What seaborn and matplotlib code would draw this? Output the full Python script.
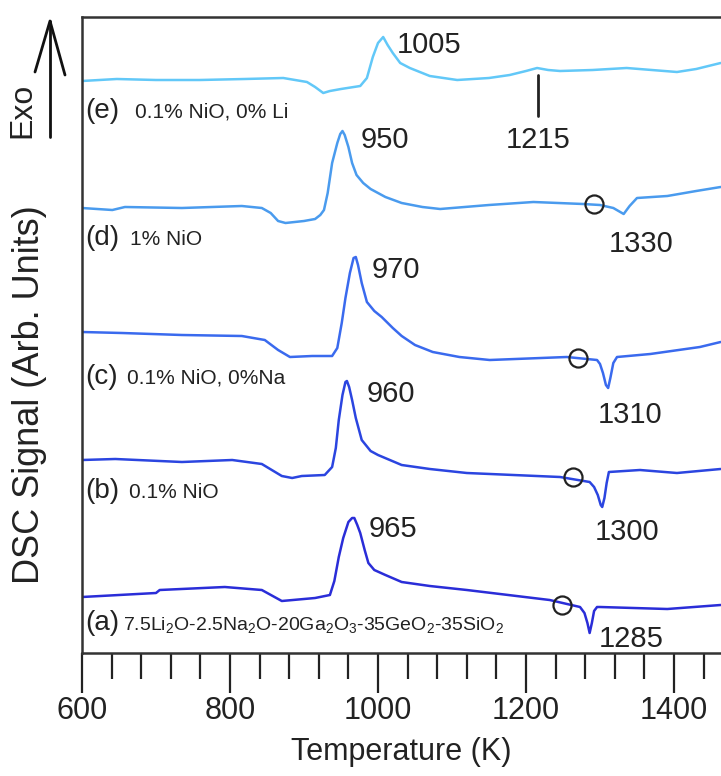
import numpy as np
import matplotlib
matplotlib.use("Agg")
import matplotlib.pyplot as plt
from matplotlib.lines import Line2D
import seaborn as sns

# ---------------- data (temperature in K, DSC signal in arbitrary units) ----------------
temps_e = [600, 647, 700, 759, 820, 872, 904, 915, 926, 935, 950, 976, 985, 993, 1000, 1007,
           1013, 1020, 1030, 1043, 1070, 1107, 1150, 1178, 1200, 1215, 1230, 1246, 1290,
           1336, 1370, 1404, 1430, 1463]
dsc_e = [572, 574, 573, 573, 574, 575, 571, 566, 560, 562, 564, 567, 575, 596, 610, 616,
         608, 600, 590, 585, 577, 573, 575, 578, 582, 585, 583, 582, 583,
         585, 583, 581, 584, 590]

temps_d = [600, 641, 658, 735, 816, 843, 855, 865, 875, 900, 915, 922, 927, 932, 938, 945,
           949, 952, 955, 960, 965, 971, 980, 990, 1010, 1032, 1060, 1084, 1150, 1210,
           1277, 1300, 1318, 1325, 1332, 1340, 1350, 1391, 1430, 1463]
dsc_d = [445, 443, 446, 445, 447, 445, 440, 432, 430, 432, 434, 438, 443, 460, 490, 510,
         519, 522, 518, 506, 490, 478, 470, 464, 456, 450, 446, 444, 448, 451,
         449, 448, 445, 442, 439, 447, 455, 457, 462, 466]

temps_c = [600, 654, 735, 816, 847, 865, 881, 911, 938, 945, 951, 956, 962, 967, 970, 973,
           978, 985, 995, 1005, 1020, 1032, 1050, 1074, 1110, 1151, 1255, 1296, 1300, 1304,
           1308, 1311, 1314, 1318, 1323, 1368, 1435, 1463]
dsc_c = [321, 320, 318, 317, 313, 303, 296, 297, 297, 305, 330, 355, 380, 395, 396, 388,
         370, 351, 342, 336, 325, 317, 308, 301, 296, 293, 296, 293, 289, 280,
         268, 265, 275, 290, 296, 299, 306, 311]

temps_b = [600, 645, 735, 803, 843, 870, 884, 897, 928, 938, 943, 947, 952, 956, 958, 961,
           965, 970, 978, 990, 1000, 1032, 1070, 1120, 1246, 1286, 1292, 1297, 1301, 1303,
           1306, 1309, 1312, 1354, 1404, 1463]
dsc_b = [193, 194, 191, 193, 189, 177, 175, 177, 178, 186, 205, 233, 258, 271, 272, 266,
         253, 235, 213, 202, 198, 188, 184, 180, 176, 171, 166, 158, 148, 146,
         155, 170, 181, 183, 180, 184]

temps_a = [600, 700, 705, 793, 843, 870, 915, 935, 941, 947, 953, 960, 965, 968, 972, 976,
           982, 987, 995, 1010, 1032, 1070, 1120, 1232, 1273, 1279, 1283, 1286, 1289, 1292,
           1296, 1300, 1391, 1463]
dsc_a = [56, 60, 63, 66, 63, 52, 55, 58, 72, 96, 115, 131, 135, 135, 128, 120,
         103, 90, 83, 78, 71, 67, 63, 53, 46, 40, 30, 20, 30, 42,
         46, 46, 44, 48]

# open-circle markers (onset of melting)
circle_temps = [1292, 1270, 1263, 1249]
circle_dsc = [449, 295, 176, 48]

# peak labels: text, temperature, signal, horizontal alignment
peak_texts = ["1005", "950", "970", "960", "965", "1215", "1330", "1310", "1300", "1285"]
peak_temps = [1026, 976, 992, 985, 988, 1216, 1355, 1340, 1336, 1342]
peak_dsc = [600, 505, 375, 251, 116, 505, 401, 230, 113, 6]
peak_ha = ["left", "left", "left", "left", "left", "center", "center", "center", "center", "center"]

# sample labels
sample_letters = ["(e)", "(d)", "(c)", "(b)", "(a)"]
sample_descs = ["0.1% NiO, 0% Li", "1% NiO", "0.1% NiO, 0%Na", "0.1% NiO",
                r"7.5Li$_2$O-2.5Na$_2$O-20Ga$_2$O$_3$-35GeO$_2$-35SiO$_2$"]
sample_label_dsc = [535, 408, 269, 155, 23]
sample_desc_temps = [672, 665, 661, 664, 656]

curve_colors = ["#62C8F8", "#4A9BEE", "#3A6AEE", "#2B45E0", "#2A2DD8"]

# ---------------- figure ----------------
sns.set_style("ticks")
plt.rcParams["font.family"] = ["Liberation Sans", "DejaVu Sans"]
plt.rcParams["mathtext.fontset"] = "custom"
plt.rcParams["mathtext.rm"] = "Liberation Sans"
plt.rcParams["mathtext.it"] = "Liberation Sans"

W, H = 721, 776
fig = plt.figure(figsize=(W / 100, H / 100), dpi=100)
left, top, bottom = 82, 17, 653
ax = fig.add_axes([left / W, 1 - bottom / H, 1 - left / W, (bottom - top) / H])

series = [(temps_e, dsc_e), (temps_d, dsc_d), (temps_c, dsc_c), (temps_b, dsc_b), (temps_a, dsc_a)]
for (t, s), col in zip(series, curve_colors):
    sns.lineplot(x=t, y=s, color=col, lw=1.8, ax=ax, sort=False, estimator=None)

ax.plot(circle_temps, circle_dsc, linestyle="none", marker="o", ms=13,
        mfc="none", mec="#222222", mew=1.6)

# marker line for 1215
ax.plot([1216, 1216], [537, 578], color="#222222", lw=2)

for txt, t, s, ha in zip(peak_texts, peak_temps, peak_dsc, peak_ha):
    ax.text(t, s, txt, fontsize=21, ha=ha, va="baseline", color="#222222")

for letter, desc, s, td in zip(sample_letters, sample_descs, sample_label_dsc, sample_desc_temps):
    ax.text(605, s, letter, fontsize=20, ha="left", va="baseline", color="#222222")
    ax.text(td, s, desc, fontsize=15 if letter != "(a)" else 14, ha="left",
            va="baseline", color="#222222")

ax.set_xlim(600, 600 + (W - left) / 0.74)
ax.set_ylim(0, bottom - top)
ax.set_xticks([600, 800, 1000, 1200, 1400])
ax.set_xticks(np.arange(600, 1461, 40), minor=True)
ax.set_yticks([])
ax.tick_params(axis="x", which="major", direction="out", length=29, width=1.6,
               labelsize=22, pad=2, colors="#222222")
ax.tick_params(axis="x", which="minor", direction="out", length=19, width=1.6, colors="#222222")
ax.set_xlabel("Temperature (K)", fontsize=22, color="#222222", labelpad=8)

for side in ["left", "top", "bottom"]:
    ax.spines[side].set_color("#333333")
    ax.spines[side].set_linewidth(1.8)
ax.spines["right"].set_visible(False)

# y label and Exo arrow (figure coordinates)
fig.text(30 / W, 1 - 395 / H, "DSC Signal (Arb. Units)", rotation=90, fontsize=26,
         ha="center", va="center", color="#222222")
fig.text(22 / W, 1 - 110 / H, "Exo", rotation=90, fontsize=23, ha="center", va="center",
         color="#222222")
fx = lambda p: p / W
fy = lambda p: 1 - p / H
fig.add_artist(Line2D([fx(50), fx(50)], [fy(137), fy(21)], color="#111111", lw=2))
fig.add_artist(Line2D([fx(35), fx(50), fx(65)], [fy(72), fy(21), fy(75)], color="#111111", lw=2))

fig.savefig("out.png", dpi=100)
